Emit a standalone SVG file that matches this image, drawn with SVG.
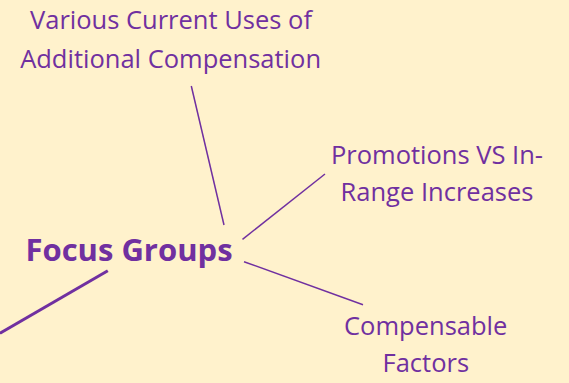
<svg xmlns="http://www.w3.org/2000/svg" width="569" height="383" viewBox="0 0 569 383">
<style>
.t{font-family:"Open Sans","Liberation Sans",sans-serif;font-size:25.5px;fill:#7030A0;text-anchor:middle}
.b{font-family:"Open Sans","Liberation Sans",sans-serif;font-size:31px;font-weight:bold;fill:#7030A0;text-anchor:middle}
.c{stroke:#7030A0;stroke-width:1.5;fill:none}
</style>
<rect width="569" height="383" fill="#FFF2CC"/>
<g id="connectors">
<line class="c" x1="191.3" y1="86" x2="224" y2="225"/>
<line class="c" x1="325" y1="174" x2="242.5" y2="239.3"/>
<line class="c" x1="244" y1="261.7" x2="363" y2="304.7"/>
<line class="c" x1="107.8" y1="270.7" x2="0" y2="333.3" style="stroke-width:3"/>
</g>
<g id="focus-groups"><text class="b" x="129" y="260.7">Focus Groups</text></g>
<g id="various-uses"><text class="t" x="171" y="29.3">Various Current Uses of</text><text class="t" x="170.6" y="67.7">Additional Compensation</text></g>
<g id="promotions"><text class="t" x="437" y="164.3">Promotions VS In-</text><text class="t" x="437" y="201">Range Increases</text></g>
<g id="compensable"><text class="t" x="425.7" y="335">Compensable</text><text class="t" x="425.8" y="372.3">Factors</text></g>
</svg>
